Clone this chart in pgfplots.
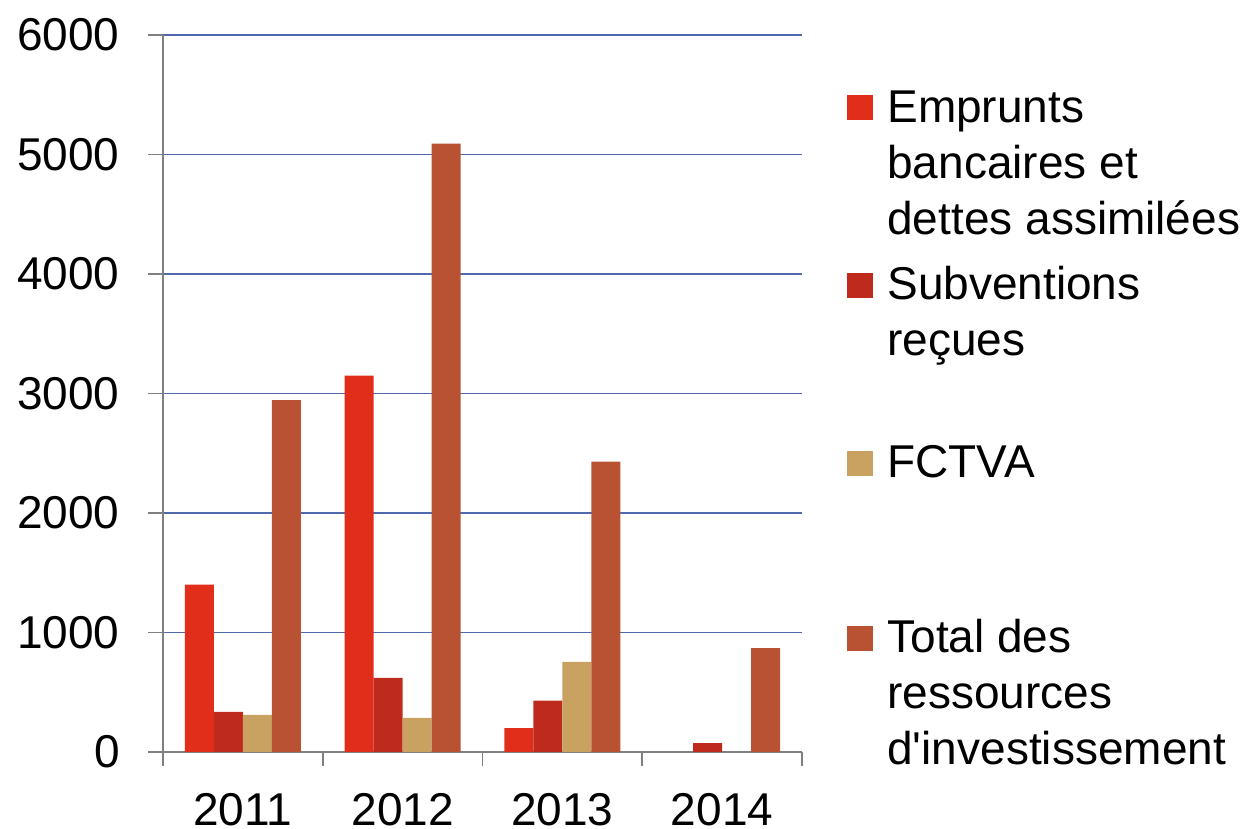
\documentclass[border=0pt]{standalone}
\usepackage{fontspec}
\setmainfont{Liberation Sans}[Ligatures=TeXOff]
\usepackage{pgfplots}
\pgfplotsset{compat=1.18}
\definecolor{cEmp}{HTML}{E12E1B}
\definecolor{cSub}{HTML}{BE2B1D}
\definecolor{cFct}{HTML}{C9A160}
\definecolor{cTot}{HTML}{B85233}
\definecolor{cGrid}{HTML}{5268AC}
\definecolor{cAxis}{HTML}{808080}
\newcommand\legtext[2]{\vtop to #1{\hsize=200pt\parindent=0pt\raggedright #2\par\vfil}}
\begin{document}
\begin{tikzpicture}
\path[use as bounding box] (-81.5pt,-38.5pt) rectangle (547.5pt,376pt);
\begin{axis}[
  at={(0,0)}, anchor=south west,
  scale only axis, width=319.5pt, height=358.5pt,
  ybar=0pt, bar width=14.5pt,
  xmin=-0.5, xmax=3.5, ymin=0, ymax=6000,
  xtick={0,1,2,3}, xticklabels={2011,2012,2013,2014},
  minor xtick={-0.5,0.5,1.5,2.5,3.5},
  ytick={0,1000,2000,3000,4000,5000,6000},
  axis lines*=left,
  axis line style={cAxis, line width=0.8pt},
  ymajorgrids, major grid style={cGrid, line width=0.9pt},
  tick align=outside,
  major tick length=7.5pt, minor tick length=7pt,
  major x tick style={draw=none},
  minor x tick style={cAxis, line width=0.8pt},
  y tick style={cAxis, line width=0.8pt},
  tick label style={font=\fontsize{23}{27.5}\selectfont, inner sep=0pt},
  /pgf/number format/assume math mode=true,
  /pgf/number format/1000 sep={},
  yticklabel style={anchor=east, xshift=-14pt},
  xticklabel style={anchor=north, yshift=-13pt},
  legend image code/.code={\fill[#1] (0pt,1pt) rectangle (13pt,13.5pt);},
  legend cell align=left,
  legend style={at={(rel axis cs:1,1)}, anchor=north west, xshift=22.5pt, yshift=-27.5pt,
    draw=none, fill=none, inner sep=0pt, row sep=0pt, column sep=7pt,
    font=\fontsize{23}{28}\selectfont,
    cells={anchor=base west}, nodes={inner sep=0pt, text depth=, text height=}},
]
\addplot[fill=cEmp, draw=none] coordinates {(0,1400) (1,3150) (2,200)};
\addlegendentry{\legtext{88pt}{Emprunts\\bancaires et\\dettes assimilées}}
\addplot[fill=cSub, draw=none] coordinates {(0,335) (1,620) (2,430) (3,75)};
\addlegendentry{\legtext{89.5pt}{Subventions\\reçues}}
\addplot[fill=cFct, draw=none] coordinates {(0,310) (1,285) (2,755)};
\addlegendentry{\legtext{87pt}{FCTVA}}
\addplot[fill=cTot, draw=none] coordinates {(0,2945) (1,5090) (2,2430) (3,870)};
\addlegendentry{\legtext{85pt}{Total des\\ressources\\d'investissement}}
\end{axis}
\end{tikzpicture}
\end{document}
